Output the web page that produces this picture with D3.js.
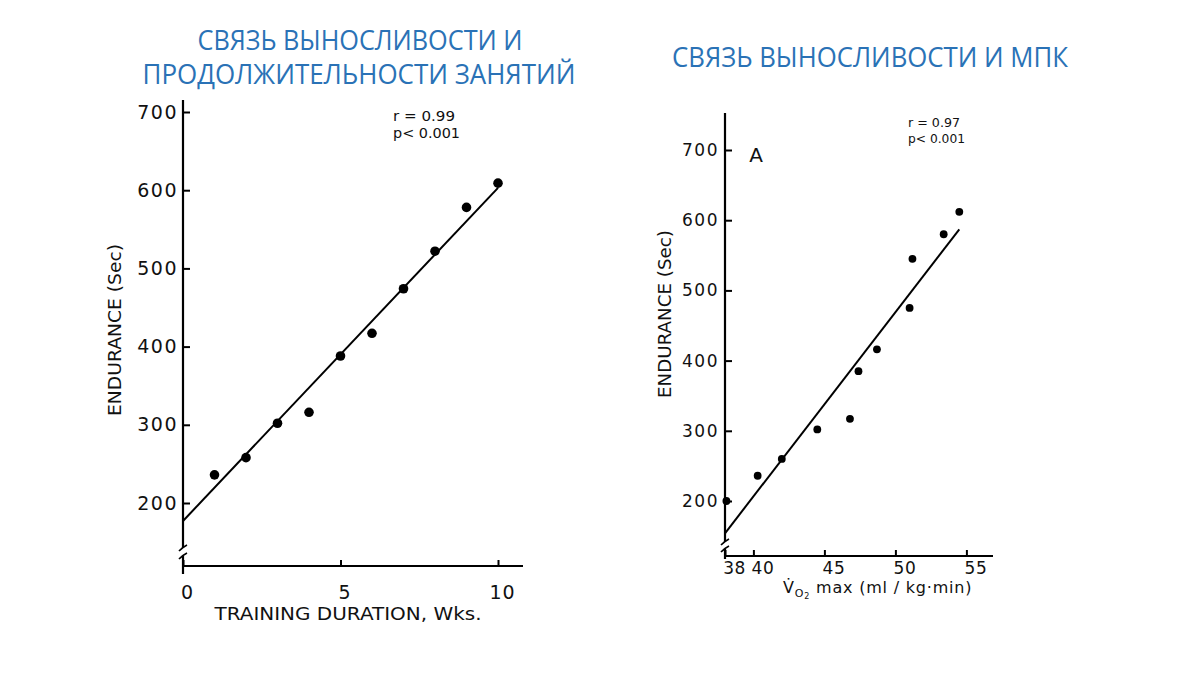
<!DOCTYPE html>
<html><head><meta charset="utf-8">
<script src="https://cdn.jsdelivr.net/npm/d3@7"></script>
<style>body{margin:0;background:#fff}svg{display:block}</style>
</head><body>
<script>
// ---- data ----
const weeks = [1, 2, 3, 4, 5, 6, 7, 8, 9, 10];
const enduranceByWeek = [236, 258, 302, 316, 388, 417, 474, 522, 578, 609];
const fitWeeks = [0, 10];
const fitWeeksEndurance = [177, 603];

const vo2 = [38.1, 40.3, 42.0, 44.5, 46.8, 47.4, 48.7, 51.0, 51.2, 53.4, 54.5];
const enduranceByVo2 = [200, 236, 260, 302, 317, 385, 416, 475, 545, 580, 612];
const fitVo2 = [38, 54.5];
const fitVo2Endurance = [154, 587];

const yTicks = [200, 300, 400, 500, 600, 700];
const weekTicks = [0, 5, 10];
const vo2Ticks = [38, 40, 45, 50, 55];

const titleLeft = ["СВЯЗЬ ВЫНОСЛИВОСТИ И", "ПРОДОЛЖИТЕЛЬНОСТИ ЗАНЯТИЙ"];
const titleRight = "СВЯЗЬ ВЫНОСЛИВОСТИ И МПК";
const statsLeft = ["r = 0.99", "p< 0.001"];
const statsRight = ["r = 0.97", "p< 0.001"];

// ---- drawing ----
const W = 1200, H = 675;
const svg = d3.select("body").append("svg").attr("width", W).attr("height", H);
const blue = "#2a72b6";
const font = "'DejaVu Sans', sans-serif";

// titles
const tf = "'Open Sans', 'Noto Sans', sans-serif";
svg.append("text").attr("x", 360).attr("y", 50).attr("text-anchor", "middle")
  .attr("font-family", tf).attr("font-size", 27).attr("fill", blue)
  .attr("textLength", 325).attr("lengthAdjust", "spacingAndGlyphs").text(titleLeft[0]);
svg.append("text").attr("x", 359).attr("y", 84).attr("text-anchor", "middle")
  .attr("font-family", tf).attr("font-size", 27).attr("fill", blue)
  .attr("textLength", 433).attr("lengthAdjust", "spacingAndGlyphs").text(titleLeft[1]);
svg.append("text").attr("x", 870).attr("y", 67).attr("text-anchor", "middle")
  .attr("font-family", tf).attr("font-size", 27).attr("fill", blue)
  .attr("textLength", 396).attr("lengthAdjust", "spacingAndGlyphs").text(titleRight);

function panel(cfg) {
  const g = svg.append("g");
  const x = d3.scaleLinear().domain(cfg.xDomain).range(cfg.xRange);
  const y = d3.scaleLinear().domain([200, 700]).range(cfg.yRange);
  const x0 = cfg.xRange[0];
  const axisY = cfg.axisY;

  // y axis ticks/labels
  const ya = g.append("g").attr("transform", `translate(${x0},0)`)
    .call(d3.axisLeft(y).tickValues(yTicks).tickSize(-7).tickPadding(cfg.yPad));
  ya.select(".domain").remove();
  ya.selectAll(".tick line").attr("stroke", "#000").attr("stroke-width", 2);
  ya.selectAll(".tick text").attr("font-family", font).attr("font-size", cfg.yFont)
    .attr("letter-spacing", cfg.ySpacing).attr("fill", "#111");

  // x axis ticks/labels
  const xa = g.append("g").attr("transform", `translate(0,${axisY})`)
    .call(d3.axisBottom(x).tickValues(cfg.xTicks).tickSize(-6).tickPadding(cfg.xPad));
  xa.select(".domain").remove();
  xa.selectAll(".tick line").attr("stroke", "#000").attr("stroke-width", 2);
  xa.selectAll(".tick text").attr("font-family", font).attr("font-size", cfg.xFont)
    .attr("letter-spacing", cfg.xSpacing).attr("dx", cfg.xDx).attr("fill", "#111");

  // axis lines with break
  const ax = g.append("g").attr("stroke", "#000").attr("stroke-width", 2.2).attr("fill", "none");
  ax.append("line").attr("x1", x0).attr("x2", x0).attr("y1", cfg.yTop).attr("y2", cfg.breakTop);
  ax.append("line").attr("x1", x0).attr("x2", x0).attr("y1", cfg.breakBot).attr("y2", cfg.yBottom);
  ax.append("path").attr("stroke-width", 1.7)
    .attr("d", `M${x0 - 4},${cfg.breakTop + 3} Q${x0},${cfg.breakTop - 1} ${x0 + 4},${cfg.breakTop - 3}`);
  ax.append("path").attr("stroke-width", 1.7)
    .attr("d", `M${x0 - 4},${cfg.breakBot + 3} Q${x0},${cfg.breakBot - 1} ${x0 + 4},${cfg.breakBot - 3}`);
  ax.append("line").attr("x1", x0).attr("x2", cfg.xEnd).attr("y1", axisY).attr("y2", axisY);

  // regression line
  g.append("line").attr("stroke", "#000").attr("stroke-width", 2)
    .attr("x1", x(cfg.fitX[0])).attr("y1", y(cfg.fitY[0]))
    .attr("x2", x(cfg.fitX[1])).attr("y2", y(cfg.fitY[1]));

  // points
  g.selectAll("circle.pt").data(cfg.xs.map((v, i) => [v, cfg.ys[i]])).enter()
    .append("circle").attr("class", "pt")
    .attr("cx", d => x(d[0])).attr("cy", d => y(d[1])).attr("r", cfg.r).attr("fill", "#000");

  // y title
  g.append("text").attr("transform", `translate(${cfg.yTitleX},${cfg.yTitleY}) rotate(-90)`)
    .attr("text-anchor", "middle").attr("font-family", font).attr("font-size", 18)
    .attr("fill", "#111").attr("textLength", cfg.yTitleLen).attr("lengthAdjust", "spacingAndGlyphs")
    .text("ENDURANCE (Sec)");

  // stats
  cfg.stats.forEach((s, i) => {
    g.append("text").attr("x", cfg.statX).attr("y", cfg.statY + i * cfg.statDy)
      .attr("font-family", font).attr("font-size", cfg.statFont).attr("fill", "#111")
      .attr("textLength", cfg.statLen[i]).attr("lengthAdjust", "spacingAndGlyphs").text(s);
  });
  return {g, x, y};
}

const L = panel({
  xDomain: [0, 10], xRange: [183, 498], yRange: [503, 112],
  axisY: 566, yTop: 100, breakTop: 548, breakBot: 556, yBottom: 574, xEnd: 523,
  xTicks: weekTicks, yPad: 5, yFont: 19, ySpacing: 1.5, xPad: 20, xFont: 19, xSpacing: 1, xDx: 4,
  fitX: fitWeeks, fitY: fitWeeksEndurance, xs: weeks, ys: enduranceByWeek, r: 4.8,
  yTitleX: 121, yTitleY: 330, yTitleLen: 172,
  stats: statsLeft, statX: 393, statY: 121, statDy: 17, statFont: 14, statLen: [62, 67]
});
L.g.append("text").attr("x", 348).attr("y", 620).attr("text-anchor", "middle")
  .attr("font-family", font).attr("font-size", 17).attr("fill", "#111")
  .attr("textLength", 267).attr("lengthAdjust", "spacingAndGlyphs")
  .text("TRAINING DURATION, Wks.");

const R = panel({
  xDomain: [38, 55], xRange: [725, 966.4], yRange: [501, 150],
  axisY: 556, yTop: 113, breakTop: 542, breakBot: 549, yBottom: 559, xEnd: 993,
  xTicks: vo2Ticks, yPad: 6, yFont: 17, ySpacing: 1.5, xPad: 6, xFont: 17, xSpacing: 0.5, xDx: 9,
  fitX: fitVo2, fitY: fitVo2Endurance, xs: vo2, ys: enduranceByVo2, r: 3.9,
  yTitleX: 671, yTitleY: 314, yTitleLen: 168,
  stats: statsRight, statX: 908, statY: 127, statDy: 16, statFont: 13, statLen: [52, 57]
});
R.g.append("text").attr("x", 756).attr("y", 162).attr("text-anchor", "middle")
  .attr("font-family", font).attr("font-size", 20).attr("fill", "#111").text("A");
const xt = R.g.append("text").attr("x", 783).attr("y", 593)
  .attr("font-family", font).attr("font-size", 16).attr("fill", "#111").attr("letter-spacing", 0.8);
xt.append("tspan").text("V\u0307");
xt.append("tspan").attr("font-size", 11).attr("dy", 4).text("O");
xt.append("tspan").attr("font-size", 8).attr("dy", 2).text("2");
xt.append("tspan").attr("dy", -6).text(" max (ml / kg\u00b7min)");
</script>
</body></html>
